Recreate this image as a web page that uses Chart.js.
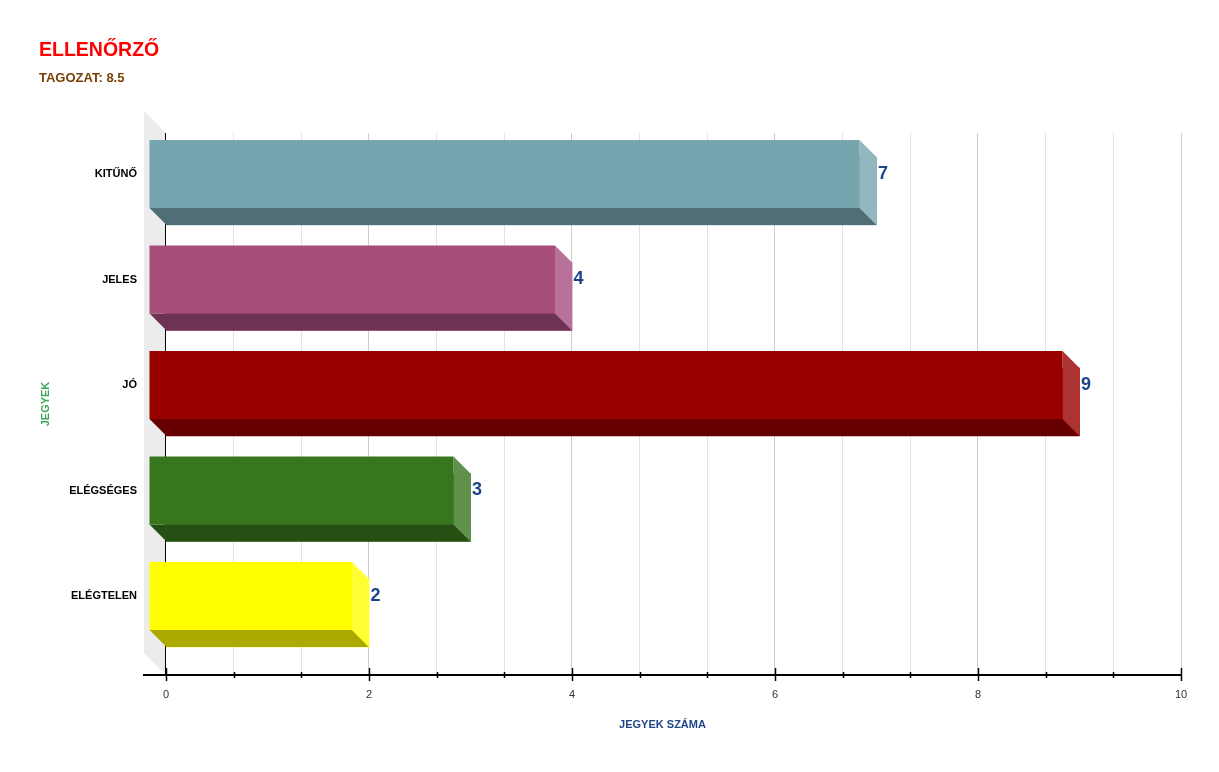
<!DOCTYPE html>
<html lang="hu">
<head>
<meta charset="utf-8">
<title>Ellenőrző</title>
<script src="https://cdn.jsdelivr.net/npm/chart.js@4.4.1/dist/chart.umd.min.js"></script>
<style>
  html, body { margin: 0; padding: 0; background: #fff; }
  #wrap { width: 1219px; height: 772px; }
</style>
</head>
<body>
<div id="wrap"><canvas id="chart" width="1219" height="772"></canvas></div>
<script>
// Categories and counts
const categories = ["KITŰNŐ", "JELES", "JÓ", "ELÉGSÉGES", "ELÉGTELEN"];
const counts = [7, 4, 9, 3, 2];

// Face colours for each bar
const frontColors = ["#76a5af", "#a64d79", "#990000", "#38761d", "#ffff00"];
const sideColors = ["#91b7bf", "#b8719a", "#ad3333", "#5f914a", "#ffff33"];
const bottomColors = ["#4f6e75", "#6d3352", "#660000", "#254f13", "#aaaa00"];

// Labelled ticks on the value axis (minor ticks split each gap in three)
const xMajorTicks = [0, 2, 4, 6, 8, 10];

const DEPTH = 17;
const FONT = "Arial, 'Liberation Sans', sans-serif";
Chart.defaults.font.family = FONT;

const xTicks = [];
for (let i = 0; i < xMajorTicks.length - 1; i++) {
  const a = xMajorTicks[i], b = xMajorTicks[i + 1];
  xTicks.push(a, a + (b - a) / 3, a + (2 * (b - a)) / 3);
}
xTicks.push(xMajorTicks[xMajorTicks.length - 1]);

const poly = (ctx, pts) => {
  ctx.beginPath();
  ctx.moveTo(pts[0][0], pts[0][1]);
  for (let i = 1; i < pts.length; i++) ctx.lineTo(pts[i][0], pts[i][1]);
  ctx.closePath();
  ctx.fill();
};

// Fake 3D: side wall, extruded bars, tick marks
const bars3d = {
  id: "bars3d",
  beforeDraw(chart) {
    const { ctx, chartArea } = chart;
    const x0 = chart.scales.x.getPixelForValue(0);
    const w = x0 - chartArea.left;
    ctx.save();
    ctx.fillStyle = "#ececec";
    poly(ctx, [
      [chartArea.left, chartArea.top - w],
      [x0, chartArea.top],
      [x0, chartArea.bottom],
      [chartArea.left, chartArea.bottom - w],
    ]);
    ctx.restore();
  },
  afterDatasetsDraw(chart) {
    const { ctx } = chart;
    const d = DEPTH;
    ctx.save();
    chart.getDatasetMeta(0).data.forEach((bar, i) => {
      const { x, y, base, height } = bar.getProps(["x", "y", "base", "height"], true);
      const top = y - height / 2;
      const bottom = y + height / 2;
      ctx.fillStyle = bottomColors[i];
      poly(ctx, [[base - d, bottom - d], [x - d, bottom - d], [x, bottom], [base, bottom]]);
      ctx.fillStyle = sideColors[i];
      poly(ctx, [[x - d, top - d], [x, top], [x, bottom], [x - d, bottom - d]]);
      ctx.fillStyle = frontColors[i];
      ctx.fillRect(base - d, top - d, x - base, height);

      ctx.fillStyle = "#1c4587";
      ctx.font = "bold 18px " + FONT;
      ctx.textAlign = "left";
      ctx.textBaseline = "middle";
      ctx.fillText(String(counts[i]), x + 1.5, y - d);
    });
    ctx.restore();
  },
  afterDraw(chart) {
    const { ctx, chartArea } = chart;
    const xs = chart.scales.x;
    const yb = chartArea.bottom;
    ctx.save();
    ctx.strokeStyle = "#000";
    ctx.lineWidth = 1.5;
    xTicks.forEach((v) => {
      const px = Math.round(xs.getPixelForValue(v)) + 0.5;
      const major = xMajorTicks.includes(v);
      ctx.beginPath();
      ctx.moveTo(px, yb - (major ? 7 : 3));
      ctx.lineTo(px, yb + (major ? 6 : 3));
      ctx.stroke();
    });
    ctx.restore();
  },
};

new Chart(document.getElementById("chart"), {
  type: "bar",
  plugins: [bars3d],
  data: {
    datasets: [
      {
        data: counts.map((v, i) => ({ x: v, y: i })),
        backgroundColor: frontColors,
        barThickness: 68,
      },
    ],
  },
  options: {
    indexAxis: "y",
    responsive: false,
    animation: false,
    layout: { padding: { left: 39, right: 38, top: 0, bottom: 0 } },
    plugins: {
      legend: { display: false },
      tooltip: { enabled: false },
      title: {
        display: true,
        text: "ELLENŐRZŐ",
        align: "start",
        color: "#ff0000",
        font: { size: 19.5, weight: "bold" },
        padding: { top: 39, bottom: 0 },
      },
      subtitle: {
        display: true,
        text: "TAGOZAT: 8.5",
        align: "start",
        color: "#783f04",
        font: { size: 13, weight: "bold" },
        padding: { top: 8.3, bottom: 46.7 },
      },
    },
    scales: {
      x: {
        type: "linear",
        min: -0.2167,
        max: 10,
        afterBuildTicks: (s) => { s.ticks = xTicks.map((v) => ({ value: v })); },
        afterFit: (s) => { s.height = 97; },
        ticks: {
          autoSkip: false,
          maxRotation: 0,
          padding: 13,
          color: "#333",
          font: { size: 11 },
          callback: (v) => (xMajorTicks.includes(v) ? String(v) : ""),
        },
        grid: {
          drawTicks: false,
          color: (c) => {
            const v = c.tick ? c.tick.value : null;
            if (v === 0) return "#000";
            return xMajorTicks.includes(v) ? "#cccccc" : "#e2e2e2";
          },
        },
        border: { display: true, color: "#000", width: 2 },
        title: {
          display: true,
          text: "JEGYEK SZÁMA",
          color: "#1c4587",
          font: { size: 11, weight: "bold" },
          padding: { top: 0, bottom: 40 },
        },
      },
      y: {
        type: "linear",
        offset: false,
        reverse: true,
        min: -0.55,
        max: 4.5877,
        afterBuildTicks: (s) => { s.ticks = categories.map((_, i) => ({ value: i })); },
        afterFit: (s) => { s.width = 105; },
        ticks: {
          autoSkip: false,
          padding: 7,
          labelOffset: -DEPTH,
          color: "#000",
          font: { size: 11, weight: "bold" },
          callback: (v) => categories[v],
        },
        grid: { display: false, drawTicks: false, offset: false },
        border: { display: false },
        title: {
          display: true,
          text: "JEGYEK",
          color: "#3aa757",
          font: { size: 11, weight: "bold" },
          padding: 0,
        },
      },
    },
  },
});
</script>
</body>
</html>
